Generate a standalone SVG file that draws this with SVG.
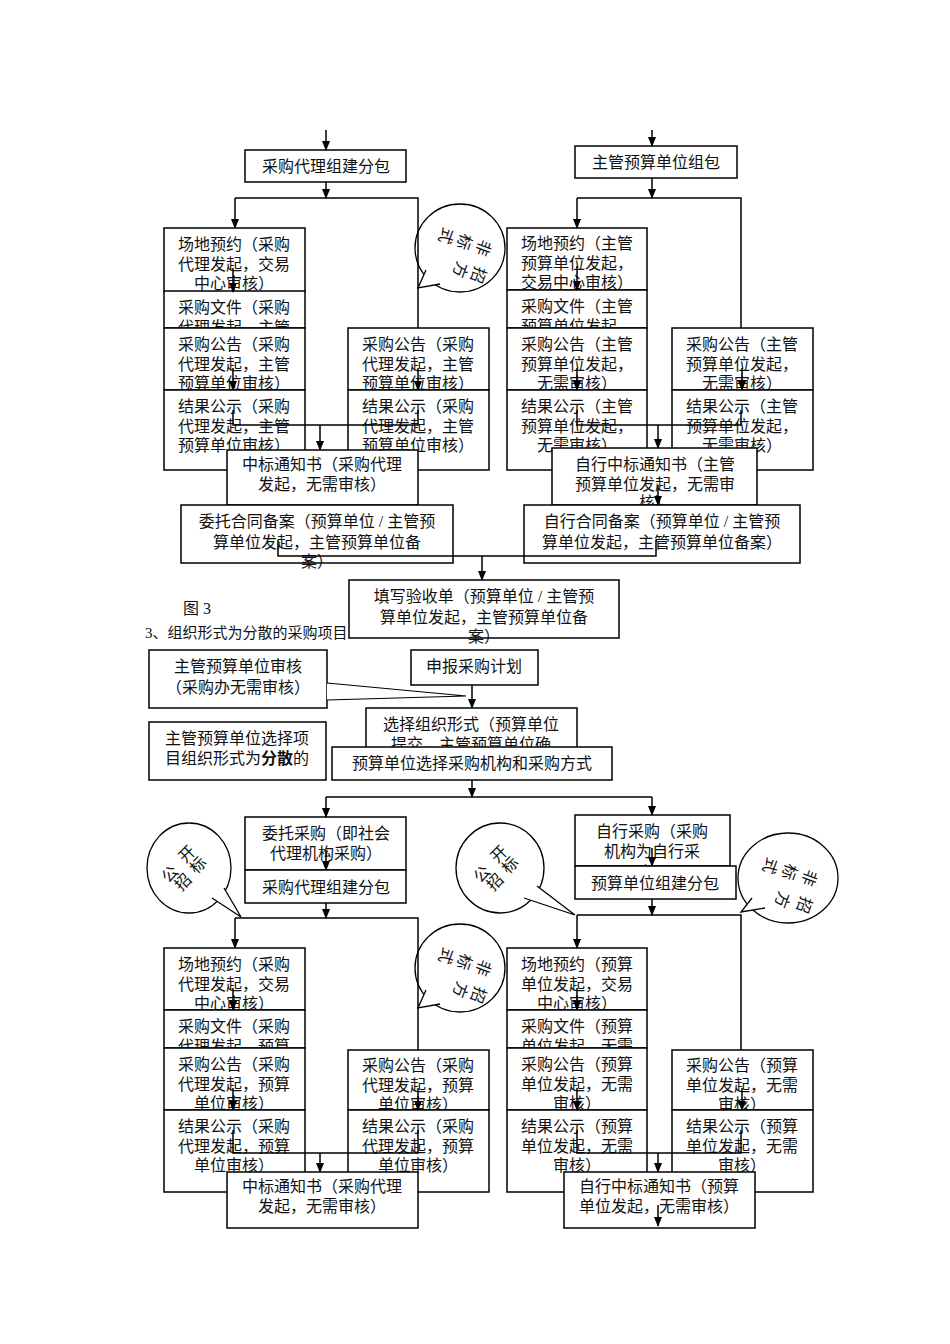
<svg xmlns="http://www.w3.org/2000/svg" width="950" height="1344" viewBox="0 0 950 1344">
<style>
rect{fill:#fff;stroke:#000;stroke-width:1.5}
text{font-family:"Liberation Serif","Noto Sans CJK SC",serif;font-size:16px;fill:#111;text-anchor:middle}
.l{text-anchor:start}
.c line,.c polyline{stroke:#000;stroke-width:1.5;fill:none}
.a{marker-end:url(#ar)}
.b{fill:#fff;stroke:#000;stroke-width:1.3}
</style>
<defs><marker id="ar" markerWidth="10" markerHeight="10" refX="9" refY="5" orient="auto" markerUnits="userSpaceOnUse"><path d="M0,1 L10,5 L0,9 z" fill="#000"/></marker></defs>
<rect x="0" y="0" width="950" height="1344" style="stroke:none"/>

<g id="n1"><rect x="245" y="150" width="161" height="32"/><text x="326" y="172">采购代理组建分包</text></g>
<g id="n2"><rect x="575" y="146" width="162" height="32"/><text x="656" y="168">主管预算单位组包</text></g>

<g id="tl1"><rect x="164" y="228" width="141" height="64"/><text x="234" y="250">场地预约（采购</text><text x="234" y="270">代理发起，交易</text><text x="234" y="289">中心审核）</text></g>
<g id="tl2"><rect x="164" y="291" width="141" height="37"/><text x="234" y="313">采购文件（采购</text><text x="234" y="333">代理发起，主管</text></g>
<g id="tl3"><rect x="164" y="328" width="141" height="62"/><text x="234" y="350">采购公告（采购</text><text x="234" y="370">代理发起，主管</text><text x="234" y="389">预算单位审核）</text></g>
<g id="tl4"><rect x="164" y="390" width="141" height="80"/><text x="234" y="412">结果公示（采购</text><text x="234" y="432">代理发起，主管</text><text x="234" y="451">预算单位审核）</text></g>
<g id="tr3"><rect x="348" y="328" width="141" height="62"/><text x="418" y="350">采购公告（采购</text><text x="418" y="370">代理发起，主管</text><text x="418" y="389">预算单位审核）</text></g>
<g id="tr4"><rect x="348" y="390" width="141" height="80"/><text x="418" y="412">结果公示（采购</text><text x="418" y="432">代理发起，主管</text><text x="418" y="451">预算单位审核）</text></g>

<g id="rl1"><rect x="507" y="228" width="140" height="62"/><text x="577" y="249">场地预约（主管</text><text x="577" y="269">预算单位发起，</text><text x="577" y="288">交易中心审核）</text></g>
<g id="rl2"><rect x="507" y="290" width="140" height="38"/><text x="577" y="312">采购文件（主管</text><text x="577" y="332">预算单位发起，</text></g>
<g id="rl3"><rect x="507" y="328" width="140" height="62"/><text x="577" y="350">采购公告（主管</text><text x="577" y="370">预算单位发起，</text><text x="577" y="389">无需审核）</text></g>
<g id="rl4"><rect x="507" y="390" width="140" height="80"/><text x="577" y="412">结果公示（主管</text><text x="577" y="432">预算单位发起，</text><text x="577" y="451">无需审核）</text></g>
<g id="rr3"><rect x="672" y="328" width="141" height="62"/><text x="742" y="350">采购公告（主管</text><text x="742" y="370">预算单位发起，</text><text x="742" y="389">无需审核）</text></g>
<g id="rr4"><rect x="672" y="390" width="141" height="80"/><text x="742" y="412">结果公示（主管</text><text x="742" y="432">预算单位发起，</text><text x="742" y="451">无需审核）</text></g>

<g id="zb1"><rect x="227" y="450" width="191" height="55"/><text x="322" y="470">中标通知书（采购代理</text><text x="322" y="490">发起，无需审核）</text></g>
<g id="zb2"><rect x="552" y="448" width="205" height="57"/><text x="655" y="470">自行中标通知书（主管</text><text x="655" y="490">预算单位发起，无需审</text><text x="655" y="508">核）</text></g>
<g id="ht1"><rect x="181" y="505" width="272" height="58"/><text x="317" y="527">委托合同备案（预算单位 / 主管预</text><text x="317" y="548">算单位发起，主管预算单位备</text><text x="317" y="567">案）</text></g>
<g id="ht2"><rect x="524" y="505" width="276" height="58"/><text x="662" y="527">自行合同备案（预算单位 / 主管预</text><text x="662" y="548">算单位发起，主管预算单位备案）</text></g>

<text class="l" x="183" y="614">图 3</text>
<text class="l" x="145" y="638" style="font-size:15px">3、组织形式为分散的采购项目</text>
<g id="ys"><rect x="349" y="580" width="270" height="58"/><text x="484" y="602">填写验收单（预算单位 / 主管预</text><text x="484" y="623">算单位发起，主管预算单位备</text><text x="484" y="642">案）</text></g>

<g id="sb"><rect x="411" y="650" width="127" height="35"/><text x="474" y="672">申报采购计划</text></g>
<g id="sh"><rect x="149" y="650" width="178" height="58"/><text x="238" y="672">主管预算单位审核</text><text x="238" y="693">（采购办无需审核）</text>
<path d="M327,683 L466,696 L327,700" style="fill:#fff;stroke:#000;stroke-width:1.2"/></g>
<g id="xz"><rect x="366" y="708" width="211" height="42"/><text x="471" y="730">选择组织形式（预算单位</text><text x="471" y="750">提交，主管预算单位确</text></g>
<g id="fs"><rect x="149" y="722" width="177" height="58"/><text x="237" y="744">主管预算单位选择项</text><text x="237" y="764">目组织形式为<tspan font-weight="bold">分散</tspan>的</text></g>
<g id="xj"><rect x="332" y="747" width="280" height="33"/><text x="472" y="769">预算单位选择采购机构和采购方式</text></g>

<g id="wt"><rect x="245" y="817" width="161" height="53"/><text x="326" y="839">委托采购（即社会</text><text x="326" y="859">代理机构采购）</text></g>
<g id="wt2"><rect x="245" y="870" width="161" height="33"/><text x="326" y="893">采购代理组建分包</text></g>
<g id="zx"><rect x="575" y="815" width="155" height="51"/><text x="652" y="837">自行采购（采购</text><text x="652" y="857">机构为自行采</text><text x="652" y="878">购）</text></g>
<g id="zx2"><rect x="575" y="866" width="161" height="33"/><text x="655" y="889">预算单位组建分包</text></g>

<g id="bl1"><rect x="164" y="948" width="141" height="62"/><text x="234" y="970">场地预约（采购</text><text x="234" y="990">代理发起，交易</text><text x="234" y="1009">中心审核）</text></g>
<g id="bl2"><rect x="164" y="1010" width="141" height="38"/><text x="234" y="1032">采购文件（采购</text><text x="234" y="1052">代理发起，预算</text></g>
<g id="bl3"><rect x="164" y="1048" width="141" height="62"/><text x="234" y="1070">采购公告（采购</text><text x="234" y="1090">代理发起，预算</text><text x="234" y="1109">单位审核）</text></g>
<g id="bl4"><rect x="164" y="1110" width="141" height="82"/><text x="234" y="1132">结果公示（采购</text><text x="234" y="1152">代理发起，预算</text><text x="234" y="1171">单位审核）</text></g>
<g id="br3"><rect x="348" y="1050" width="141" height="60"/><text x="418" y="1071">采购公告（采购</text><text x="418" y="1091">代理发起，预算</text><text x="418" y="1110">单位审核）</text></g>
<g id="br4"><rect x="348" y="1110" width="141" height="82"/><text x="418" y="1132">结果公示（采购</text><text x="418" y="1152">代理发起，预算</text><text x="418" y="1171">单位审核）</text></g>

<g id="cl1"><rect x="507" y="948" width="140" height="62"/><text x="577" y="970">场地预约（预算</text><text x="577" y="990">单位发起，交易</text><text x="577" y="1009">中心审核）</text></g>
<g id="cl2"><rect x="507" y="1010" width="140" height="38"/><text x="577" y="1032">采购文件（预算</text><text x="577" y="1052">单位发起，无需</text></g>
<g id="cl3"><rect x="507" y="1048" width="140" height="62"/><text x="577" y="1070">采购公告（预算</text><text x="577" y="1090">单位发起，无需</text><text x="577" y="1109">审核）</text></g>
<g id="cl4"><rect x="507" y="1110" width="140" height="82"/><text x="577" y="1132">结果公示（预算</text><text x="577" y="1152">单位发起，无需</text><text x="577" y="1171">审核）</text></g>
<g id="cr3"><rect x="672" y="1050" width="141" height="60"/><text x="742" y="1071">采购公告（预算</text><text x="742" y="1091">单位发起，无需</text><text x="742" y="1110">审核）</text></g>
<g id="cr4"><rect x="672" y="1110" width="141" height="82"/><text x="742" y="1132">结果公示（预算</text><text x="742" y="1152">单位发起，无需</text><text x="742" y="1171">审核）</text></g>

<g id="zb3"><rect x="227" y="1172" width="191" height="56"/><text x="322" y="1192">中标通知书（采购代理</text><text x="322" y="1212">发起，无需审核）</text></g>
<g id="zb4"><rect x="564" y="1172" width="191" height="56"/><text x="659" y="1192">自行中标通知书（预算</text><text x="659" y="1212">单位发起，无需审核）</text></g>

<g id="bub1"><ellipse class="b" cx="460" cy="248" rx="45" ry="44"/><path class="b" d="M426,270 L418,288 L440,284"/>
<text transform="translate(478,246) rotate(110)">非</text><text transform="translate(459,240) rotate(110)">标</text><text transform="translate(441,234) rotate(110)">式</text><text transform="translate(473,273) rotate(110)">招</text><text transform="translate(455,268) rotate(110)">方</text></g>
<g id="bub2"><ellipse class="b" cx="189" cy="868" rx="42" ry="45"/><path class="b" d="M212,898 L241,917 L224,888"/>
<text transform="translate(174,878) rotate(-45)">公</text><text transform="translate(191,858) rotate(-45)">开</text><text transform="translate(187,886) rotate(-45)">招</text><text transform="translate(202,869) rotate(-45)">标</text></g>
<g id="bub3"><ellipse class="b" cx="500" cy="868" rx="44" ry="45"/><path class="b" d="M524,898 L575,915 L537,886"/>
<text transform="translate(486,878) rotate(-45)">公</text><text transform="translate(503,858) rotate(-45)">开</text><text transform="translate(499,886) rotate(-45)">招</text><text transform="translate(514,869) rotate(-45)">标</text></g>
<g id="bub4"><ellipse class="b" cx="460" cy="968" rx="45" ry="44"/><path class="b" d="M426,990 L418,1008 L440,1004"/>
<text transform="translate(478,966) rotate(110)">非</text><text transform="translate(459,960) rotate(110)">标</text><text transform="translate(441,954) rotate(110)">式</text><text transform="translate(473,993) rotate(110)">招</text><text transform="translate(455,988) rotate(110)">方</text></g>
<g id="bub5"><ellipse class="b" cx="788" cy="878" rx="50" ry="45"/><path class="b" d="M752,898 L741,912 L765,908"/>
<text transform="translate(804,876) rotate(110)">非</text><text transform="translate(784,870) rotate(110)">标</text><text transform="translate(765,864) rotate(110)">式</text><text transform="translate(799,903) rotate(110)">招</text><text transform="translate(777,898) rotate(110)">方</text></g>

<g id="connectors" class="c">
<line class="a" x1="326" y1="130" x2="326" y2="150"/>
<line class="a" x1="326" y1="182" x2="326" y2="198"/>
<polyline points="418,328 418,198 235,198"/><line class="a" x1="235" y1="198" x2="235" y2="228"/>
<line class="a" x1="233" y1="268" x2="233" y2="292"/>
<line class="a" x1="233" y1="368" x2="233" y2="390"/>
<line class="a" x1="418" y1="368" x2="418" y2="390"/>
<polyline points="233,410 233,425 418,425 418,410"/><line class="a" x1="320" y1="425" x2="320" y2="450"/>
<line class="a" x1="652" y1="130" x2="652" y2="146"/>
<line class="a" x1="652" y1="178" x2="652" y2="198"/>
<polyline points="741,328 741,198 577,198"/><line class="a" x1="577" y1="198" x2="577" y2="228"/>
<line class="a" x1="577" y1="266" x2="577" y2="290"/>
<line class="a" x1="577" y1="368" x2="577" y2="390"/>
<line class="a" x1="742" y1="368" x2="742" y2="390"/>
<polyline points="577,410 577,425 741,425 741,410"/><line class="a" x1="658" y1="425" x2="658" y2="448"/>
<line class="a" x1="658" y1="485" x2="658" y2="505"/>
<polyline points="278,540 278,556 656,556 656,540"/><line class="a" x1="482" y1="556" x2="482" y2="580"/>
<line class="a" x1="472" y1="685" x2="472" y2="708"/>
<line class="a" x1="472" y1="780" x2="472" y2="797"/>
<polyline points="326,797 652,797"/><line class="a" x1="326" y1="797" x2="326" y2="817"/><line class="a" x1="652" y1="797" x2="652" y2="815"/>
<line class="a" x1="326" y1="850" x2="326" y2="870"/>
<line class="a" x1="326" y1="903" x2="326" y2="918"/>
<polyline points="418,1050 418,918 235,918"/><line class="a" x1="235" y1="918" x2="235" y2="948"/>
<line class="a" x1="233" y1="988" x2="233" y2="1010"/>
<line class="a" x1="233" y1="1088" x2="233" y2="1110"/>
<line class="a" x1="418" y1="1088" x2="418" y2="1110"/>
<polyline points="233,1130 233,1153 418,1153 418,1130"/><line class="a" x1="320" y1="1153" x2="320" y2="1172"/>
<line class="a" x1="652" y1="848" x2="652" y2="866"/>
<line class="a" x1="652" y1="899" x2="652" y2="915"/>
<polyline points="741,1050 741,915 577,915"/><line class="a" x1="577" y1="915" x2="577" y2="948"/>
<line class="a" x1="577" y1="988" x2="577" y2="1010"/>
<line class="a" x1="577" y1="1088" x2="577" y2="1110"/>
<line class="a" x1="742" y1="1088" x2="742" y2="1110"/>
<polyline points="577,1130 577,1153 741,1153 741,1130"/><line class="a" x1="658" y1="1153" x2="658" y2="1172"/>
<line class="a" x1="658" y1="1205" x2="658" y2="1226"/>
</g>
</svg>
